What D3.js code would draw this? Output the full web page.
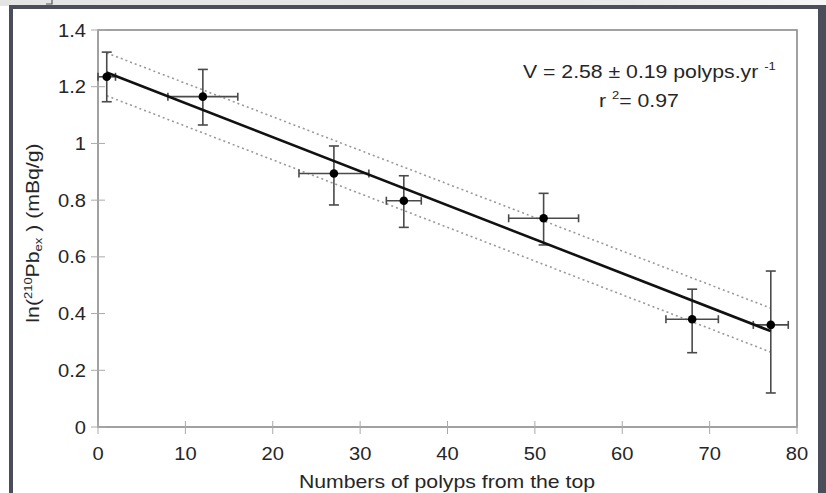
<!DOCTYPE html>
<html>
<head>
<meta charset="utf-8">
<script src="https://cdn.jsdelivr.net/npm/d3@7"></script>
<style>
  body { margin: 0; background: #fff; }
  svg { display: block; font-family: "Liberation Sans", Arial, sans-serif; }
</style>
</head>
<body>
<svg id="chart" width="826" height="493"></svg>
<script>
// data
const polyps = [1, 12, 27, 35, 51, 68, 77];
const lnPb = [1.235, 1.165, 0.894, 0.798, 0.736, 0.380, 0.360];
const polypErr = [1, 4, 4, 2, 4, 3, 2];
const lnPbLow = [1.147, 1.065, 0.783, 0.704, 0.642, 0.262, 0.120];
const lnPbHigh = [1.322, 1.261, 0.991, 0.886, 0.824, 0.486, 0.550];

// regression line and its dotted envelope (ends at first / last point)
const fitX = [1, 77];
const fitY = [1.250, 0.338];
const upperY = [1.319, 0.419];
const lowerY = [1.168, 0.264];

const xTicks = [0, 10, 20, 30, 40, 50, 60, 70, 80];
const yTicks = [0, 0.2, 0.4, 0.6, 0.8, 1, 1.2, 1.4];
const yTickLabels = ["0", "0.2", "0.4", "0.6", "0.8", "1", "1.2", "1.4"];

var svg = d3.select("#chart");

// the original font is wider than Arial, so text is stretched along its run
function label(parent, x, y, opts) {
    var g = parent.append("g")
        .attr("transform", "translate(" + x + "," + y + ")" +
            (opts.rotate ? " rotate(" + opts.rotate + ")" : "") +
            " scale(" + (opts.sx || 1.18) + ",1)");
    return g.append("text")
        .attr("text-anchor", opts.anchor || "start")
        .attr("font-size", (opts.size || 18) + "px")
        .attr("fill", "#262626");
}

// screenshot frame around the figure
var grad = svg.append("defs").append("linearGradient").attr("id", "topStrip");
grad.append("stop").attr("offset", "0%").attr("stop-color", "#e4e4e4");
grad.append("stop").attr("offset", "75%").attr("stop-color", "#e8e8e8");
grad.append("stop").attr("offset", "100%").attr("stop-color", "#f6f6f6");
svg.append("rect").attr("x", 0).attr("y", 0).attr("width", 826).attr("height", 6).attr("fill", "url(#topStrip)");
svg.append("path").attr("d", "M52,0 V4 H46").attr("fill", "none").attr("stroke", "#555").attr("stroke-width", 1.2);
svg.append("rect").attr("x", 9).attr("y", 5).attr("width", 817).attr("height", 4).attr("fill", "#4b4d5b");
svg.append("rect").attr("x", 9).attr("y", 5).attr("width", 4).attr("height", 488).attr("fill", "#4b4d5b");
svg.append("rect").attr("x", 818).attr("y", 5).attr("width", 8).attr("height", 488).attr("fill", "#4b4d5b");

var margin = { left: 98, top: 30, right: 797, bottom: 427 };

var x = d3.scaleLinear().domain([0, 80]).range([margin.left, margin.right]);
var y = d3.scaleLinear().domain([0, 1.4]).range([margin.bottom, margin.top]);

// plot box
svg.append("rect")
    .attr("x", x(0)).attr("y", y(1.4))
    .attr("width", x(80) - x(0)).attr("height", y(0) - y(1.4))
    .attr("fill", "none").attr("stroke", "#8a8a8a").attr("stroke-width", 1.6);

// crossing tick marks
svg.append("g").selectAll("line").data(xTicks).enter().append("line")
    .attr("x1", d => x(d)).attr("x2", d => x(d))
    .attr("y1", y(0) - 6).attr("y2", y(0) + 7)
    .attr("stroke", "#aaa").attr("stroke-width", 1);
svg.append("g").selectAll("line").data(yTicks).enter().append("line")
    .attr("x1", x(0) - 7).attr("x2", x(0) + 7)
    .attr("y1", d => y(d)).attr("y2", d => y(d))
    .attr("stroke", "#aaa").attr("stroke-width", 1);

// tick labels
var xl = svg.append("g");
xTicks.forEach(function (d) {
    label(xl, x(d), 460, { anchor: "middle", sx: 1.12 }).text(d);
});
var ylab = svg.append("g");
yTicks.forEach(function (d, i) {
    label(ylab, 86, y(d) + 6.5, { anchor: "end", sx: 1.12 }).text(yTickLabels[i]);
});

// axis titles
label(svg, 447, 488, { anchor: "middle" }).text("Numbers of polyps from the top");

var yt = label(svg, 39, 233, { anchor: "middle", rotate: -90 });
yt.append("tspan").text("ln(");
yt.append("tspan").attr("font-size", "11px").attr("dy", -7).text("210");
yt.append("tspan").attr("dy", 7).text("Pb");
yt.append("tspan").attr("font-size", "11px").attr("dy", 3).text("ex");
yt.append("tspan").attr("dy", -3).text(" ) (mBq/g)");

// dotted envelope
var line = d3.line().x(d => x(d[0])).y(d => y(d[1]));
[upperY, lowerY].forEach(function (band) {
    svg.append("path")
        .attr("d", line(fitX.map((v, i) => [v, band[i]])))
        .attr("fill", "none").attr("stroke", "#999")
        .attr("stroke-width", 1.6).attr("stroke-dasharray", "2,3");
});

// error bars
var eb = svg.append("g").attr("stroke", "#4a4a4a").attr("stroke-width", 1.6);
polyps.forEach(function (p, i) {
    var cx = x(p), cy = y(lnPb[i]);
    eb.append("line").attr("x1", cx).attr("x2", cx).attr("y1", y(lnPbLow[i])).attr("y2", y(lnPbHigh[i]));
    eb.append("line").attr("x1", cx - 5).attr("x2", cx + 5).attr("y1", y(lnPbLow[i])).attr("y2", y(lnPbLow[i]));
    eb.append("line").attr("x1", cx - 5).attr("x2", cx + 5).attr("y1", y(lnPbHigh[i])).attr("y2", y(lnPbHigh[i]));
    var x0 = x(p - polypErr[i]), x1 = x(p + polypErr[i]);
    eb.append("line").attr("x1", x0).attr("x2", x1).attr("y1", cy).attr("y2", cy);
    eb.append("line").attr("x1", x0).attr("x2", x0).attr("y1", cy - 4).attr("y2", cy + 4);
    eb.append("line").attr("x1", x1).attr("x2", x1).attr("y1", cy - 4).attr("y2", cy + 4);
});

// regression line
svg.append("path")
    .attr("d", line(fitX.map((v, i) => [v, fitY[i]])))
    .attr("fill", "none").attr("stroke", "#111").attr("stroke-width", 2.6);

// points
svg.append("g").selectAll("circle").data(polyps).enter().append("circle")
    .attr("cx", d => x(d)).attr("cy", (d, i) => y(lnPb[i]))
    .attr("r", 4.3).attr("fill", "#000");

// annotation
var t1 = label(svg, 523, 78, {});
t1.append("tspan").text("V = 2.58 \u00b1 0.19 polyps.yr ");
t1.append("tspan").attr("font-size", "11px").attr("dy", -8).text("-1");

var t2 = label(svg, 599, 107, {});
t2.append("tspan").text("r ");
t2.append("tspan").attr("font-size", "11px").attr("dy", -8).text("2");
t2.append("tspan").attr("dy", 8).text("= 0.97");
</script>
</body>
</html>
